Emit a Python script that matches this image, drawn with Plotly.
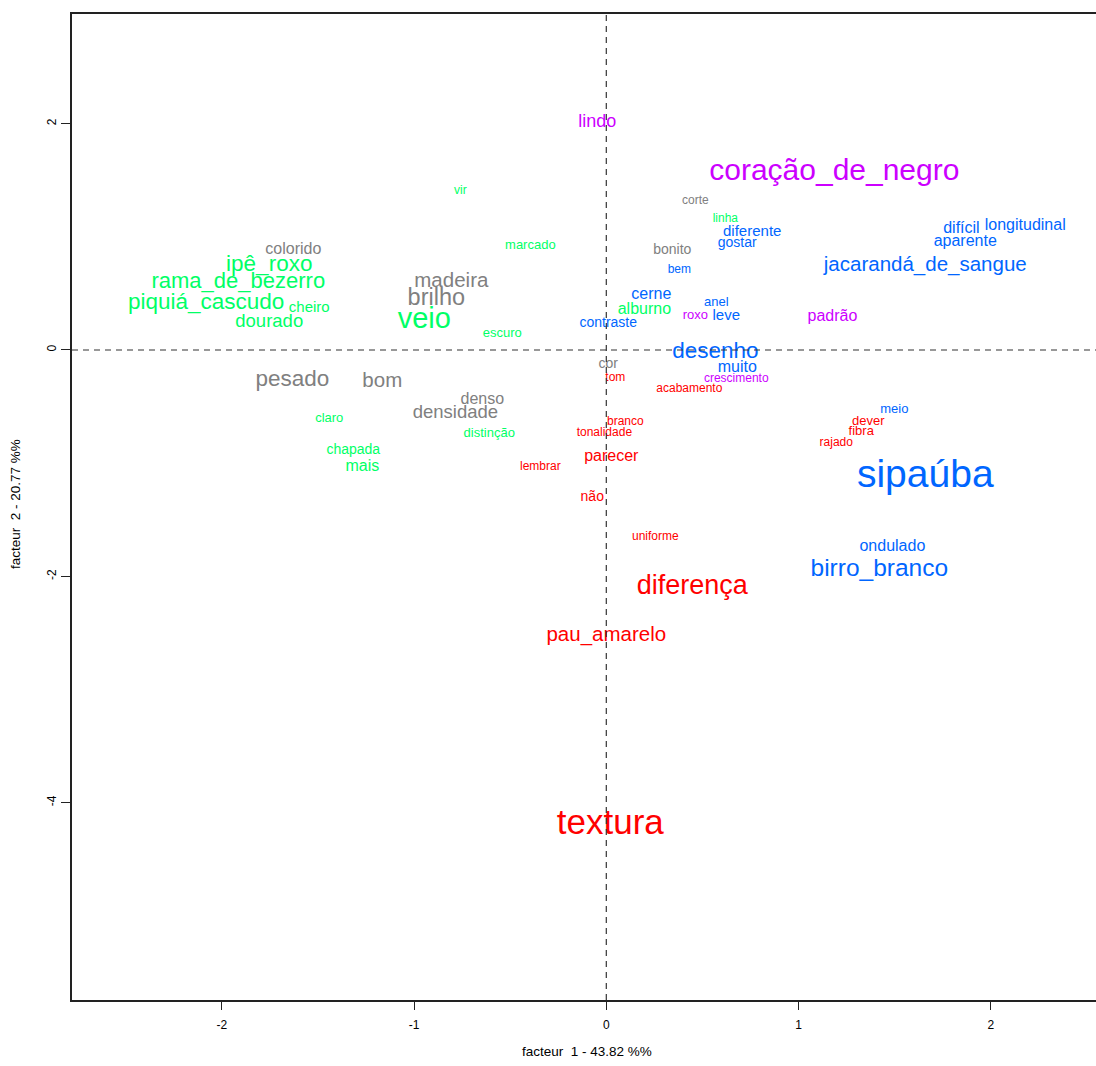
import plotly.graph_objects as go

# Factor coordinates of the words, grouped by class
green_words = ["vir", "marcado", "ipê_roxo", "rama_de_bezerro", "piquiá_cascudo", "cheiro",
               "dourado", "veio", "escuro", "alburno", "linha", "claro", "chapada", "mais",
               "distinção"]
green_x = [-0.759, -0.395, -1.753, -1.914, -2.081, -1.545, -1.753, -0.947, -0.541, 0.198,
           0.619, -1.441, -1.316, -1.269, -0.609]
green_y = [1.405, 0.919, 0.751, 0.592, 0.415, 0.371, 0.247, 0.256, 0.141, 0.353, 1.157,
           -0.610, -0.892, -1.034, -0.742]

gray_words = ["colorido", "madeira", "brilho", "pesado", "bom", "denso", "densidade",
              "corte", "bonito", "cor"]
gray_x = [-1.628, -0.806, -0.884, -1.633, -1.165, -0.645, -0.785, 0.463, 0.343, 0.010]
gray_y = [0.883, 0.601, 0.451, -0.265, -0.283, -0.442, -0.557, 1.316, 0.875, -0.124]

blue_words = ["diferente", "gostar", "bem", "cerne", "anel", "leve", "contraste", "desenho",
              "muito", "difícil", "longitudinal", "aparente", "jacarandá_de_sangue", "meio",
              "sipaúba", "ondulado", "birro_branco"]
blue_x = [0.759, 0.681, 0.380, 0.234, 0.572, 0.624, 0.010, 0.567, 0.681, 1.847, 2.179,
          1.867, 1.659, 1.498, 1.659, 1.488, 1.420]
blue_y = [1.042, 0.945, 0.707, 0.486, 0.415, 0.300, 0.230, -0.018, -0.159, 1.069, 1.095,
          0.954, 0.742, -0.530, -1.122, -1.740, -1.943]

magenta_words = ["lindo", "coração_de_negro", "roxo", "padrão", "crescimento"]
magenta_x = [-0.047, 1.186, 0.463, 1.176, 0.676]
magenta_y = [2.014, 1.572, 0.300, 0.292, -0.256]

red_words = ["tom", "acabamento", "branco", "tonalidade", "parecer", "lembrar", "não",
             "uniforme", "diferença", "pau_amarelo", "textura", "dever", "fibra", "rajado"]
red_x = [0.047, 0.432, 0.099, -0.010, 0.026, -0.343, -0.073, 0.255, 0.447, 0.000, 0.021,
         1.363, 1.326, 1.196]
red_y = [-0.247, -0.345, -0.636, -0.733, -0.945, -1.034, -1.307, -1.652, -2.094, -2.527,
         -4.196, -0.636, -0.724, -0.822]

x_ticks = [-2, -1, 0, 1, 2]
y_ticks = [2, 0, -2, -4]
x_title = "facteur  1 - 43.82 %%"
y_title = "facteur  2 - 20.77 %%"

# Label size (px) for each word
FONT_PX = {
    "vir": 12, "marcado": 13, "ipê_roxo": 22.5, "rama_de_bezerro": 22, "piquiá_cascudo": 22.5,
    "cheiro": 15, "dourado": 18.5, "veio": 29, "escuro": 13, "alburno": 16, "linha": 12,
    "claro": 13, "chapada": 14, "mais": 16, "distinção": 13,
    "colorido": 16, "madeira": 20.5, "brilho": 23.5, "pesado": 22.5, "bom": 20.5, "denso": 16,
    "densidade": 18.5, "corte": 12, "bonito": 14, "cor": 14,
    "diferente": 15, "gostar": 14, "bem": 12, "cerne": 16, "anel": 13, "leve": 15,
    "contraste": 14, "desenho": 22.5, "muito": 16, "difícil": 16, "longitudinal": 16,
    "aparente": 16, "jacarandá_de_sangue": 20.5, "meio": 13, "sipaúba": 39, "ondulado": 16,
    "birro_branco": 24.5,
    "lindo": 18, "coração_de_negro": 30, "roxo": 13, "padrão": 16, "crescimento": 12,
    "tom": 12, "acabamento": 12, "branco": 12, "tonalidade": 12, "parecer": 16,
    "lembrar": 12, "não": 14, "uniforme": 12, "diferença": 27, "pau_amarelo": 20.5,
    "textura": 35, "dever": 13, "fibra": 13, "rajado": 12,
}

groups = [
    (green_words, green_x, green_y, "#00FF66"),
    (gray_words, gray_x, gray_y, "#808080"),
    (blue_words, blue_x, blue_y, "#0066FF"),
    (magenta_words, magenta_x, magenta_y, "#CC00FF"),
    (red_words, red_x, red_y, "#FF0000"),
]

FONT = "Liberation Sans, Arial, sans-serif"

fig = go.Figure()
for words, xs, ys, color in groups:
    fig.add_trace(go.Scatter(
        x=xs, y=ys, text=words, mode="text",
        textposition="middle center",
        textfont=dict(family=FONT, color=color, size=[FONT_PX[w] for w in words]),
        hoverinfo="skip", showlegend=False,
    ))

# Dashed reference axes through the origin
dash_line = dict(color="#333333", width=1.2, dash="6px,5px")
fig.add_shape(type="line", xref="paper", yref="y", x0=0, x1=1, y0=0, y1=0, line=dash_line)
fig.add_shape(type="line", xref="x", yref="paper", x0=0, x1=0, y0=0, y1=1, line=dash_line)

axis_font = dict(family=FONT, size=12, color="#000000")
title_font = dict(family=FONT, size=13.5, color="#000000")
fig.update_xaxes(
    range=[-2.779, 2.547], tickvals=x_ticks, ticktext=[str(v) for v in x_ticks],
    showgrid=False, zeroline=False, showline=True, mirror=True,
    linecolor="#222222", linewidth=1.5, ticks="outside", ticklen=8, tickwidth=1,
    tickcolor="#222222", tickfont=axis_font, ticklabelstandoff=5,
)
fig.update_yaxes(
    range=[-5.742, 2.968], tickvals=y_ticks, ticktext=[str(v) for v in y_ticks],
    showgrid=False, zeroline=False, showline=True, mirror=False,
    linecolor="#222222", linewidth=1.5, ticks="outside", ticklen=9, tickwidth=1,
    tickcolor="#222222", tickfont=axis_font, tickangle=-90,
)

fig.add_annotation(text=x_title, xref="paper", yref="paper", x=0.503, y=0,
                   yshift=-51, showarrow=False, font=title_font,
                   xanchor="center", yanchor="middle")
fig.add_annotation(text=y_title, xref="paper", yref="paper", x=0, y=0.503,
                   xshift=-57, showarrow=False, font=title_font, textangle=-90,
                   xanchor="center", yanchor="middle")

fig.update_layout(
    width=1096, height=1066,
    margin=dict(l=72, r=0, t=14, b=66),
    plot_bgcolor="#FFFFFF", paper_bgcolor="#FFFFFF",
)

fig.write_html("out.html")
